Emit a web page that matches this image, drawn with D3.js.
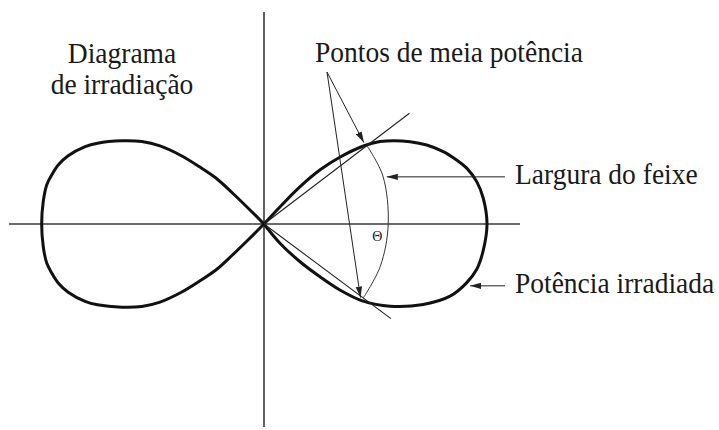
<!DOCTYPE html>
<html>
<head>
<meta charset="utf-8">
<script src="https://cdn.jsdelivr.net/npm/d3@7"></script>
<style>
  html, body { margin: 0; padding: 0; background: #fff; }
  text { font-family: "Liberation Serif", "Times New Roman", "DejaVu Serif", serif; fill: #1a1a1a; }
</style>
</head>
<body>
<div id="d3-container"></div>
<script>
/* CONSTANTS AND GLOBALS */
const width = 719,
  height = 430,
  center = { x: 264, y: 224 },
  unit = 223, // pixels for a normalised radius of 1
  fontSize = 27.5,
  stretch = 1.08; // the lettering in the original is a bit taller than wide

/* DATA (angle in degrees, normalised radius) */
// right lobe, above the axis
const rightUpper = [
  [0, 1.0], [6.7, 0.99], [11.2, 0.973], [15.4, 0.943], [18.4, 0.91],
  [22, 0.867], [25.9, 0.811], [29.4, 0.752], [32.8, 0.69], [35.4, 0.638],
  [38, 0.57], [41.4, 0.453], [44, 0.35], [46, 0.233], [47, 0.106], [48, 0]
];
// right lobe, below the axis
const rightLower = [
  [0, 1.0], [7, 0.99], [12.1, 0.975], [16.2, 0.946], [21.2, 0.895],
  [26.8, 0.8], [33.1, 0.675], [38, 0.56], [41, 0.451], [43.3, 0.345],
  [46.3, 0.234], [50.3, 0.112], [51.5, 0]
];
// left lobe (same above and below)
const leftLobe = [
  [0, 0.997], [5.8, 0.995], [10.2, 0.99], [13, 0.977], [16, 0.96],
  [19.2, 0.93], [23.4, 0.874], [25.9, 0.83], [30.3, 0.739], [34, 0.661],
  [36.9, 0.583], [39.5, 0.483], [41.5, 0.389], [43.8, 0.295],
  [44.5, 0.2], [45, 0.1], [45.5, 0]
];

// half-power directions and points
const halfPowerLines = [[37.3, 0.82], [-36.7, 0.71]];
const halfPowerPoints = [[37.3, 0.58], [-36.5, 0.555]];
// beam width arc
const beamArc = [[37.3, 0.58], [22, 0.575], [0, 0.557], [-20, 0.555], [-36.5, 0.555]];

// labels
const titleLines = ["Diagrama", "de irradiação"];
const halfPowerLabel = "Pontos de meia potência";
const beamLabel = "Largura do feixe";
const powerLabel = "Potência irradiada";
const thetaLabel = "Θ";

// where the side arrows touch the drawing
const beamArrowTip = [21, 0.59];
const powerArrowTip = [-16.7, 0.965];

// axis extents (normalised)
const axisX = [-1.144, 1.148];
const axisY = [-0.91, 0.951];

let svg, xScale, yScale;

init();

function polar(a, r) {
  const t = (a * Math.PI) / 180;
  return [xScale(r * Math.cos(t)), yScale(r * Math.sin(t))];
}

// text placed at (x, y) and stretched a little vertically
function label(x, y, str, anchor) {
  return svg.append("text")
    .attr("transform", `translate(${x},${y}) scale(1,${stretch})`)
    .attr("text-anchor", anchor || "start")
    .attr("font-size", fontSize)
    .text(str);
}

function init() {
  // + SCALES
  xScale = d3.scaleLinear().domain([-1, 1]).range([center.x - unit, center.x + unit]);
  yScale = d3.scaleLinear().domain([-1, 1]).range([center.y + unit, center.y - unit]);

  svg = d3
    .select("#d3-container")
    .append("svg")
    .attr("width", width)
    .attr("height", height);

  svg.append("defs")
    .append("marker")
    .attr("id", "head")
    .attr("markerUnits", "userSpaceOnUse")
    .attr("viewBox", "0 -4 11 8")
    .attr("markerWidth", 11)
    .attr("markerHeight", 8)
    .attr("refX", 11)
    .attr("refY", 0)
    .attr("orient", "auto")
    .append("path")
    .attr("d", "M0,-3.2L11,0L0,3.2Z")
    .attr("fill", "#222");

  // + AXES
  svg.append("line")
    .attr("x1", xScale(axisX[0])).attr("x2", xScale(axisX[1]))
    .attr("y1", yScale(0)).attr("y2", yScale(0))
    .attr("stroke", "#3a3a3a").attr("stroke-width", 1.6);
  svg.append("line")
    .attr("x1", xScale(0)).attr("x2", xScale(0))
    .attr("y1", yScale(axisY[1])).attr("y2", yScale(axisY[0]))
    .attr("stroke", "#3a3a3a").attr("stroke-width", 1.6);

  const line = d3.line().curve(d3.curveCatmullRom.alpha(0.5));

  // + LOBES
  const rightPts = rightUpper.slice().reverse().map(d => polar(d[0], d[1]))
    .concat(rightLower.slice(1).map(d => polar(-d[0], d[1])));
  const leftPts = leftLobe.slice().reverse().map(d => polar(180 - d[0], d[1]))
    .concat(leftLobe.slice(1).map(d => polar(180 + d[0], d[1])));

  svg.selectAll("path.lobe")
    .data([rightPts, leftPts])
    .join("path")
    .attr("class", "lobe")
    .attr("d", d => line(d))
    .attr("fill", "none")
    .attr("stroke", "#111")
    .attr("stroke-width", 3)
    .attr("stroke-linejoin", "round");

  // + HALF POWER LINES
  svg.selectAll("line.hp")
    .data(halfPowerLines)
    .join("line")
    .attr("class", "hp")
    .attr("x1", xScale(0)).attr("y1", yScale(0))
    .attr("x2", d => polar(d[0], d[1])[0])
    .attr("y2", d => polar(d[0], d[1])[1])
    .attr("stroke", "#222").attr("stroke-width", 1.1);

  // + BEAM ARC
  svg.append("path")
    .attr("d", line(beamArc.map(d => polar(d[0], d[1]))))
    .attr("fill", "none")
    .attr("stroke", "#333")
    .attr("stroke-width", 1);

  svg.append("text")
    .attr("x", polar(-5, 0.51)[0])
    .attr("y", polar(-5, 0.51)[1] + 7)
    .attr("text-anchor", "middle")
    .attr("font-size", 14)
    .text(thetaLabel);

  // + LABELS
  titleLines.forEach((d, i) => label(122, 63 + i * 31, d, "middle"));
  label(315, 62, halfPowerLabel);

  const start = [327, 72];
  svg.selectAll("line.pointer")
    .data(halfPowerPoints)
    .join("line")
    .attr("class", "pointer")
    .attr("x1", start[0]).attr("y1", start[1])
    .attr("x2", d => polar(d[0], d[1])[0] - 3)
    .attr("y2", d => polar(d[0], d[1])[1] + (d[0] > 0 ? -3 : 0))
    .attr("stroke", "#222").attr("stroke-width", 1)
    .attr("marker-end", "url(#head)");

  const side = [
    { tip: beamArrowTip, text: beamLabel, base: 7 },
    { tip: powerArrowTip, text: powerLabel, base: 7.5 }
  ];
  side.forEach(s => {
    const p = polar(s.tip[0], s.tip[1]);
    svg.append("line")
      .attr("x1", 505).attr("y1", p[1])
      .attr("x2", p[0]).attr("y2", p[1])
      .attr("stroke", "#222").attr("stroke-width", 1)
      .attr("marker-end", "url(#head)");
    label(515, p[1] + s.base, s.text);
  });
}
</script>
</body>
</html>
